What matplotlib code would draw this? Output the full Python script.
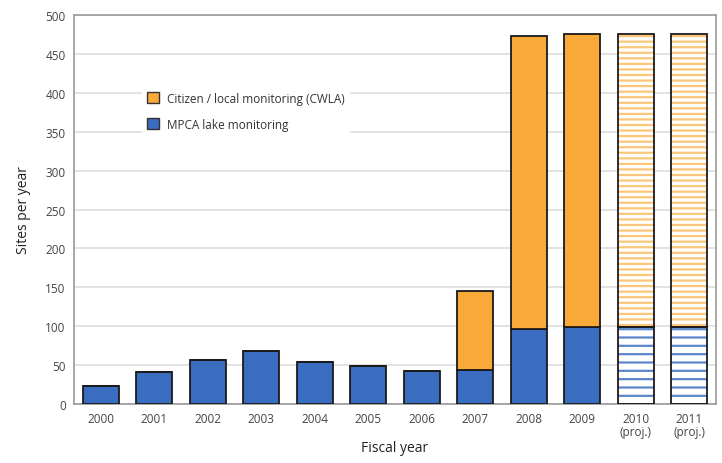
import matplotlib.pyplot as plt
import numpy as np

plt.rcParams['font.family'] = ['Open Sans', 'DejaVu Sans']
plt.rcParams['hatch.linewidth'] = 1.6

years = ['2000', '2001', '2002', '2003', '2004', '2005', '2006',
         '2007', '2008', '2009', '2010\n(proj.)', '2011\n(proj.)']
mpca = [23, 41, 56, 68, 54, 49, 42, 44, 96, 99, 99, 99]
citizen = [0, 0, 0, 0, 0, 0, 0, 101, 377, 376, 376, 376]
projected = [False] * 10 + [True] * 2

orange = '#f9a937'
blue = '#3a6dbf'

fig = plt.figure(figsize=(7.22, 4.64), dpi=100)
ax = fig.add_axes([0.1025, 0.127, 0.889, 0.8385])

x = np.arange(len(years))
w = 0.67
mpca = np.array(mpca)
citizen = np.array(citizen)
proj = np.array(projected)
act = ~proj

# actual years: solid fills
ax.bar(x[act], mpca[act], w, color=blue, edgecolor='#1a1a1a', linewidth=1.3, zorder=3)
ax.bar(x[act], citizen[act], w, bottom=mpca[act], color=orange,
       edgecolor='#1a1a1a', linewidth=1.3, zorder=3)

# projected years: striped fills with an outline drawn on top
ax.bar(x[proj], mpca[proj], w, color='white', edgecolor='#5a86cc', hatch='--',
       linewidth=0, zorder=3)
ax.bar(x[proj], citizen[proj], w, bottom=mpca[proj], color='white',
       edgecolor='#fbc57a', hatch='---', linewidth=0, zorder=3)
ax.bar(x[proj], mpca[proj], w, fill=False, edgecolor='#1a1a1a', linewidth=1.3, zorder=4)
ax.bar(x[proj], citizen[proj], w, bottom=mpca[proj], fill=False,
       edgecolor='#1a1a1a', linewidth=1.3, zorder=4)

ax.set_xlim(-0.5, 11.5)
ax.set_ylim(0, 500)
ax.set_yticks(range(0, 501, 50))
ax.set_xticks(x)
ax.set_xticklabels(years, fontsize=8.5, color='#444444', linespacing=1.0)
ax.tick_params(axis='y', labelsize=8.5, labelcolor='#444444', length=0, pad=6)
ax.tick_params(axis='x', length=0, pad=6)
ax.grid(axis='y', color='#dddddd', linewidth=1.2, zorder=0)
for s in ax.spines.values():
    s.set_color('#999999')
    s.set_linewidth(1.2)

ax.set_ylabel('Sites per year', fontsize=10, color='#222222', labelpad=10)
ax.set_xlabel('Fiscal year', fontsize=10, color='#222222', labelpad=1)

h1 = plt.Rectangle((0, 0), 1, 1, facecolor=orange, edgecolor='#333333', linewidth=1)
h2 = plt.Rectangle((0, 0), 1, 1, facecolor=blue, edgecolor='#333333', linewidth=1)
ax.legend([h1, h2], ['Citizen / local monitoring (CWLA)', 'MPCA lake monitoring'],
          loc='upper left', bbox_to_anchor=(0.097, 0.83), frameon=True,
          facecolor='white', edgecolor='white', framealpha=1,
          fontsize=8.5, handlelength=1.0, handleheight=1.0, labelspacing=1.1,
          handletextpad=0.7, labelcolor='#333333')

fig.savefig('out.png', dpi=100)
